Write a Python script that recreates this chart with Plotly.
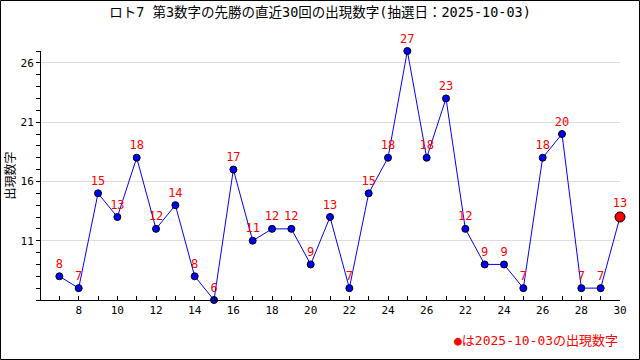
import plotly.graph_objects as go

idx = list(range(1, 31))
values = [8, 7, 15, 13, 18, 12, 14, 8, 6, 17, 11, 12, 12, 9, 13, 7, 15, 18, 27, 18, 23, 12, 9, 9, 7, 18, 20, 7, 7, 13]
tick_pos = list(range(2, 31, 2))
tick_text = ["8", "10", "12", "14", "16", "18", "20", "22", "24", "26", "22", "24", "26", "28", "30"]
y_ticks = [11, 16, 21, 26]
title = "ロト7 第3数字の先勝の直近30回の出現数字(抽選日：2025-10-03)"
note = "●は2025-10-03の出現数字"

FONT = "DejaVu Sans Mono, Noto Sans CJK JP"

fig = go.Figure()
fig.add_trace(go.Scatter(
    x=idx, y=values, mode="lines+markers+text",
    text=[str(v) for v in values[:-1]] + [""],
    textposition="top center",
    textfont=dict(color="#ff0000", size=12, family=FONT),
    line=dict(color="#0000ff", width=1),
    marker=dict(color="#0000ff", size=7, line=dict(color="#000000", width=1)),
    cliponaxis=False, showlegend=False, hoverinfo="skip",
))
fig.add_trace(go.Scatter(
    x=[idx[-1]], y=[values[-1]], mode="markers+text",
    text=[str(values[-1])], textposition="top center",
    textfont=dict(color="#ff0000", size=12, family=FONT),
    marker=dict(color="#ff0000", size=10, line=dict(color="#000000", width=1)),
    cliponaxis=False, showlegend=False, hoverinfo="skip",
))

pw, ph = 579, 249
L, T = 41, 51
fig.add_shape(type="rect", xref="paper", yref="paper",
              x0=(0.5 - L) / pw, x1=(639.5 - L) / pw,
              y0=(300 - 359.5) / ph, y1=(300 - 0.5) / ph,
              line=dict(color="#000000", width=1))

fig.add_annotation(text=note, xref="paper", yref="paper",
                   x=1.0, y=(300 - 340) / ph, xanchor="right", yanchor="middle",
                   showarrow=False, font=dict(color="#ff0000", size=13, family=FONT))

fig.update_layout(
    width=640, height=360,
    margin=dict(l=L, r=20, t=T, b=60, autoexpand=False),
    paper_bgcolor="#ffffff", plot_bgcolor="#ffffff",
    title=dict(text=title, x=0.5, xanchor="center", y=1 - 12 / 360, yanchor="middle",
               font=dict(size=13.5, color="#000000", family=FONT)),
    font=dict(family=FONT, size=11, color="#000000"),
    xaxis=dict(range=[0.05, 30], tickvals=tick_pos, ticktext=tick_text,
               ticks="inside", ticklen=4, tickcolor="#000000",
               showline=True, linecolor="#000000", linewidth=1,
               showgrid=False, zeroline=False, automargin=False,
               minor=dict(dtick=1, tick0=0, ticks="inside", ticklen=4, tickcolor="#000000", showgrid=False),
               tickfont=dict(size=11, family=FONT)),
    yaxis=dict(range=[6, 27], tickvals=y_ticks,
               ticks="outside", ticklen=4, tickcolor="#000000",
               showline=True, linecolor="#000000", linewidth=1,
               showgrid=True, gridcolor="#dddddd", gridwidth=1, zeroline=False, automargin=False,
               minor=dict(dtick=1, tick0=6, ticks="outside", ticklen=4, tickcolor="#000000", showgrid=False),
               tickfont=dict(size=11, family=FONT),
               title=dict(text="出現数字", standoff=2, font=dict(size=12, family=FONT))),
)

fig.write_html("out.html", config={"displayModeBar": False},
               post_script="document.body.style.margin='0px';")
